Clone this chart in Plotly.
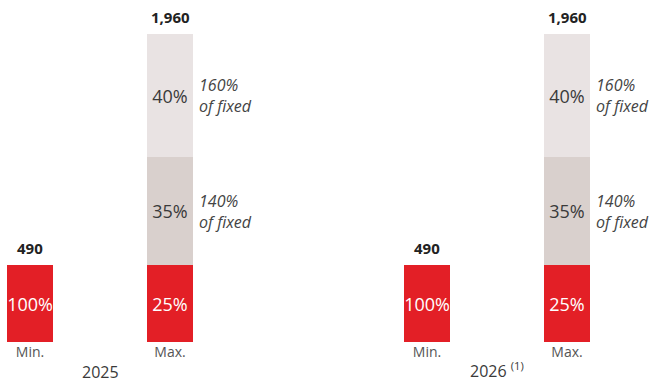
import plotly.graph_objects as go

years = ["2025", "2026"]
year_labels = ["2025", "2026 <sup>(1)</sup>"]
bar_labels = ["Min.", "Max."]
min_values = [490, 490]
max_fixed = [490, 490]
max_mid = [686, 686]
max_top = [784, 784]
min_pct = ["100%", "100%"]
fixed_pct = ["25%", "25%"]
mid_pct = ["35%", "35%"]
top_pct = ["40%", "40%"]
mid_note = "140%<br>of fixed"
top_note = "160%<br>of fixed"

RED = "#E31F26"
MID = "#D9D0CD"
TOP = "#E9E3E3"
TXT = "#3a3a3a"
FONT = "Open Sans"

# x positions (Min, Max for each year)
group_offset = 2.836
min_x = [0 + i * group_offset for i in range(len(years))]
max_x = [1 + i * group_offset for i in range(len(years))]
bw = 0.3286

fig = go.Figure()
def seg(x, y, color, text, tcolor):
    return go.Bar(x=x, y=y, width=bw, marker=dict(color=color, line=dict(width=0)),
                  text=text, textposition="inside", insidetextanchor="middle", textangle=0,
                  constraintext="none",
                  textfont=dict(color=tcolor, size=18, family=FONT), hoverinfo="skip")

fig.add_trace(seg(min_x, min_values, RED, min_pct, "white"))
fig.add_trace(seg(max_x, max_fixed, RED, fixed_pct, "white"))
fig.add_trace(seg(max_x, max_mid, MID, mid_pct, TXT))
fig.add_trace(seg(max_x, max_top, TOP, top_pct, TXT))

annotations = []
for i in range(len(years)):
    total_max = max_fixed[i] + max_mid[i] + max_top[i]
    annotations.append(dict(x=min_x[i], y=min_values[i], xref="x", yref="y", text=f"<b>{min_values[i]:,}</b>",
                            showarrow=False, yanchor="bottom", yshift=5,
                            font=dict(size=15, color="#222", family=FONT)))
    annotations.append(dict(x=max_x[i], y=total_max, xref="x", yref="y", text=f"<b>{total_max:,}</b>",
                            showarrow=False, yanchor="bottom", yshift=5,
                            font=dict(size=15, color="#222", family=FONT)))
    annotations.append(dict(x=max_x[i] + bw / 2, y=max_fixed[i] + max_mid[i] / 2, xref="x", yref="y",
                            text=f"<i>{mid_note}</i>", showarrow=False, xanchor="left", yanchor="middle",
                            xshift=4, align="left", font=dict(size=16, color="#444", family=FONT)))
    annotations.append(dict(x=max_x[i] + bw / 2, y=max_fixed[i] + max_mid[i] + max_top[i] / 2, xref="x", yref="y",
                            text=f"<i>{top_note}</i>", showarrow=False, xanchor="left", yanchor="middle",
                            xshift=4, align="left", font=dict(size=16, color="#444", family=FONT)))
    annotations.append(dict(x=(min_x[i] + max_x[i]) / 2, y=0, xref="x", yref="y", text=year_labels[i],
                            showarrow=False, yanchor="middle", yshift=-30 if i == 0 else -28,
                            font=dict(size=16, color=TXT, family=FONT)))

tickvals = []
ticktext = []
for i in range(len(years)):
    tickvals += [min_x[i], max_x[i]]
    ticktext += bar_labels

ymax_total = max_fixed[0] + max_mid[0] + max_top[0]
fig.update_layout(
    barmode="stack",
    width=652, height=383,
    margin=dict(l=0, r=0, t=0, b=41),
    paper_bgcolor="white", plot_bgcolor="white",
    showlegend=False,
    bargap=0,
    xaxis=dict(range=[-30 / 140, 622 / 140], tickvals=tickvals, ticktext=ticktext,
               showgrid=False, zeroline=False, showline=False, ticks="",
               tickfont=dict(size=14, color="#555", family=FONT), fixedrange=True),
    yaxis=dict(range=[0, ymax_total * 342 / 308], visible=False, fixedrange=True),
    annotations=annotations,
    font=dict(family=FONT),
)

fig.write_html("out.html")
